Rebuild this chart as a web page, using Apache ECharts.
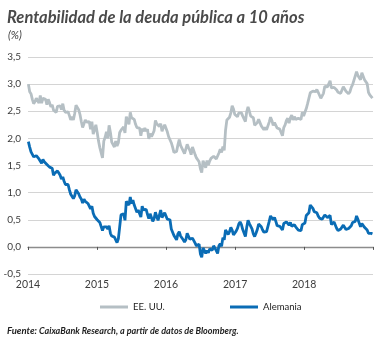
<!DOCTYPE html>
<html>
<head>
<meta charset="utf-8">
<script src="https://cdn.jsdelivr.net/npm/echarts@6/dist/echarts.min.js"></script>
<style>
  html, body { margin: 0; padding: 0; background: #ffffff; }
  #chart { width: 381px; height: 338px; }
</style>
</head>
<body>
<div id="chart"></div>
<script>
// Weekly observations (Fridays), first one on 3 Jan 2014
const firstWeek = '2014-01-03';

// US 10-year Treasury yield, %
const usYield = [
  // 2014
  3.00, 2.86, 2.82, 2.72, 2.64, 2.68, 2.74, 2.73, 2.65, 2.79, 2.65, 2.74, 2.72,
  2.72, 2.62, 2.72, 2.66, 2.58, 2.62, 2.52, 2.53, 2.48, 2.59, 2.60, 2.60, 2.53,
  2.64, 2.52, 2.48, 2.47, 2.49, 2.42, 2.34, 2.40, 2.34, 2.46, 2.61, 2.58, 2.53,
  2.44, 2.31, 2.20, 2.27, 2.34, 2.30, 2.32, 2.31, 2.17, 2.31, 2.08, 2.16, 2.25,
  // 2015
  2.11, 1.95, 1.83, 1.80, 1.64, 1.95, 2.02, 2.12, 2.00, 2.24, 2.11, 1.93, 1.95,
  1.84, 1.95, 1.86, 1.92, 2.11, 2.15, 2.14, 2.21, 2.10, 2.40, 2.39, 2.26, 2.48,
  2.38, 2.40, 2.35, 2.26, 2.20, 2.17, 2.19, 2.05, 2.18, 2.13, 2.19, 2.13, 2.17,
  1.99, 2.09, 2.03, 2.08, 2.14, 2.33, 2.27, 2.26, 2.22, 2.27, 2.13, 2.20, 2.25,
  // 2016
  2.27, 2.12, 2.03, 2.05, 1.92, 1.84, 1.74, 1.75, 1.76, 1.88, 1.98, 1.87, 1.90,
  1.77, 1.72, 1.75, 1.89, 1.83, 1.78, 1.70, 1.84, 1.85, 1.70, 1.64, 1.62, 1.57,
  1.44, 1.37, 1.59, 1.57, 1.46, 1.59, 1.51, 1.58, 1.63, 1.60, 1.67, 1.70, 1.62,
  1.60, 1.73, 1.80, 1.74, 1.85, 1.78, 2.15, 2.34, 2.36, 2.39, 2.47, 2.60, 2.54,
  2.44,
  // 2017
  2.42, 2.40, 2.47, 2.49, 2.47, 2.41, 2.42, 2.31, 2.49, 2.58, 2.50, 2.41, 2.39,
  2.38, 2.24, 2.24, 2.29, 2.35, 2.33, 2.23, 2.25, 2.16, 2.20, 2.16, 2.14, 2.30,
  2.39, 2.33, 2.24, 2.29, 2.26, 2.19, 2.19, 2.17, 2.16, 2.05, 2.20, 2.25, 2.33,
  2.37, 2.28, 2.38, 2.43, 2.34, 2.40, 2.35, 2.34, 2.37, 2.38, 2.35, 2.48, 2.41,
  // 2018
  2.48, 2.55, 2.64, 2.66, 2.84, 2.85, 2.87, 2.87, 2.86, 2.90, 2.85, 2.82, 2.74,
  2.77, 2.83, 2.96, 2.96, 2.95, 2.97, 3.06, 2.93, 2.90, 2.94, 2.92, 2.89, 2.85,
  2.82, 2.83, 2.89, 2.95, 2.95, 2.87, 2.87, 2.82, 2.86, 2.94, 2.99, 3.07, 3.06,
  3.23, 3.16, 3.19, 3.08, 3.21, 3.19, 3.08, 3.05, 3.01, 2.85, 2.80, 2.79, 2.74
];

// German 10-year Bund yield, %
const deYield = [
  // 2014
  1.94, 1.84, 1.75, 1.73, 1.66, 1.67, 1.68, 1.67, 1.62, 1.65, 1.54, 1.61, 1.57,
  1.60, 1.52, 1.53, 1.47, 1.46, 1.45, 1.32, 1.36, 1.36, 1.40, 1.36, 1.32, 1.25,
  1.29, 1.21, 1.15, 1.16, 1.15, 1.05, 0.97, 0.97, 0.89, 0.94, 1.05, 1.04, 0.98,
  0.92, 0.88, 0.81, 0.88, 0.84, 0.81, 0.80, 0.77, 0.70, 0.75, 0.62, 0.56, 0.54,
  // 2015
  0.50, 0.49, 0.45, 0.46, 0.30, 0.37, 0.34, 0.37, 0.33, 0.39, 0.25, 0.20, 0.21,
  0.18, 0.15, 0.08, 0.15, 0.37, 0.59, 0.62, 0.61, 0.49, 0.84, 0.85, 0.77, 0.92,
  0.80, 0.86, 0.77, 0.74, 0.64, 0.68, 0.68, 0.55, 0.75, 0.68, 0.66, 0.69, 0.60,
  0.52, 0.61, 0.54, 0.47, 0.52, 0.64, 0.56, 0.49, 0.48, 0.68, 0.54, 0.56, 0.63,
  // 2016
  0.63, 0.51, 0.51, 0.50, 0.33, 0.30, 0.21, 0.20, 0.13, 0.24, 0.28, 0.20, 0.19,
  0.13, 0.09, 0.13, 0.25, 0.27, 0.14, 0.12, 0.16, 0.14, 0.07, 0.02, -0.01, 0.05,
  -0.13, -0.19, -0.02, -0.04, -0.12, -0.07, -0.11, -0.04, -0.07, -0.06, 0.02, 0.01, -0.07,
  -0.12, 0.02, 0.06, 0.01, 0.17, 0.13, 0.31, 0.27, 0.23, 0.28, 0.36, 0.31, 0.22,
  0.21,
  // 2017
  0.29, 0.34, 0.42, 0.46, 0.41, 0.32, 0.30, 0.19, 0.36, 0.49, 0.43, 0.41, 0.33,
  0.24, 0.19, 0.25, 0.32, 0.42, 0.40, 0.37, 0.31, 0.27, 0.26, 0.28, 0.25, 0.47,
  0.57, 0.59, 0.50, 0.54, 0.47, 0.39, 0.41, 0.38, 0.37, 0.31, 0.43, 0.45, 0.46,
  0.46, 0.40, 0.45, 0.38, 0.37, 0.41, 0.37, 0.36, 0.31, 0.30, 0.30, 0.41, 0.43,
  // 2018
  0.44, 0.58, 0.57, 0.63, 0.77, 0.75, 0.71, 0.65, 0.65, 0.63, 0.57, 0.53, 0.50,
  0.51, 0.52, 0.59, 0.57, 0.54, 0.56, 0.58, 0.41, 0.39, 0.46, 0.40, 0.34, 0.30,
  0.28, 0.33, 0.36, 0.40, 0.43, 0.32, 0.30, 0.34, 0.33, 0.39, 0.45, 0.48, 0.47,
  0.57, 0.51, 0.44, 0.37, 0.43, 0.41, 0.36, 0.34, 0.31, 0.25, 0.27, 0.25, 0.24
];

const seriesNames = ['EE. UU.', 'Alemania'];
const yTicks = { min: -0.5, max: 3.5, step: 0.5 };
const xRange = ['2014-01-01', '2018-12-31'];

const usColor = '#b5bfc4';
const deColor = '#0a6cb5';
const textColor = '#3c3c3c';
const fontFam = 'Lato, "Open Sans", sans-serif';

// pair each weekly value with its date
const DAY = 24 * 3600 * 1000;
const t0 = new Date(firstWeek + 'T00:00:00Z').getTime();
const weekly = vals => vals.map((v, i) => [t0 + i * 7 * DAY, v]);

const comma = v => v.toFixed(1).replace('.', ',');

const chart = echarts.init(document.getElementById('chart'), null, { renderer: 'canvas' });

chart.setOption({
  animation: false,
  backgroundColor: '#ffffff',
  title: [
    {
      text: 'Rentabilidad de la deuda pública a 10 años',
      left: 2, top: 4,
      textStyle: { fontFamily: fontFam, fontSize: 16.5, fontWeight: 'bold', fontStyle: 'italic', color: '#4a4a4a' }
    },
    {
      text: '(%)',
      left: 3, top: 25,
      textStyle: { fontFamily: fontFam, fontSize: 11, fontWeight: 'normal', fontStyle: 'italic', color: textColor }
    },
    {
      text: '{b|Fuente:}{i|CaixaBank Research, a partir de datos de Bloomberg.}',
      left: 2, top: 321,
      textStyle: {
        rich: {
          b: { fontFamily: fontFam, fontSize: 9.5, fontWeight: 'bold', fontStyle: 'italic', color: '#222', padding: [0, 2, 0, 0] },
          i: { fontFamily: fontFam, fontSize: 9, fontStyle: 'italic', color: '#222' }
        }
      }
    }
  ],
  legend: [
    {
      data: [seriesNames[0]], left: 95, top: 297,
      icon: 'rect', itemWidth: 28, itemHeight: 3,
      textStyle: { fontFamily: fontFam, fontSize: 9.5, color: '#222' }
    },
    {
      data: [seriesNames[1]], left: 225, top: 297,
      icon: 'rect', itemWidth: 28, itemHeight: 3,
      textStyle: { fontFamily: fontFam, fontSize: 9.5, color: '#222' }
    }
  ],
  grid: { left: 28, right: 8, top: 57, bottom: 64, containLabel: false },
  xAxis: [
    {
      // year labels along the bottom
      type: 'time', min: xRange[0], max: xRange[1],
      position: 'bottom',
      axisLine: { show: false, onZero: false },
      axisTick: { show: false },
      splitLine: { show: false },
      axisLabel: {
        margin: 5,
        fontFamily: fontFam, fontSize: 10.5, color: textColor,
        formatter: v => { const d = new Date(v); return (d.getMonth() === 0 && d.getDate() === 1) ? String(d.getFullYear()) : ''; }
      }
    },
    {
      // baseline at zero with yearly ticks
      type: 'time', min: xRange[0], max: xRange[1],
      position: 'bottom',
      axisLine: { show: true, onZero: true, lineStyle: { color: '#8c8c8c', width: 1.3 } },
      axisTick: { show: true, length: 3, lineStyle: { color: '#555', width: 1 } },
      splitLine: { show: false },
      axisLabel: { show: false }
    }
  ],
  yAxis: {
    type: 'value',
    min: yTicks.min, max: yTicks.max, interval: yTicks.step,
    axisLine: { show: false },
    axisTick: { show: false },
    splitLine: { lineStyle: { color: '#d4d4d4', width: 1 } },
    axisLabel: { margin: 7, fontFamily: fontFam, fontSize: 10, color: textColor, formatter: comma }
  },
  series: [
    {
      name: seriesNames[0], type: 'line', xAxisIndex: 0,
      data: weekly(usYield),
      showSymbol: false, smooth: false,
      lineStyle: { color: usColor, width: 2.8 },
      itemStyle: { color: usColor }
    },
    {
      name: seriesNames[1], type: 'line', xAxisIndex: 0,
      data: weekly(deYield),
      showSymbol: false, smooth: false,
      lineStyle: { color: deColor, width: 2.8 },
      itemStyle: { color: deColor }
    }
  ]
});
</script>
</body>
</html>
